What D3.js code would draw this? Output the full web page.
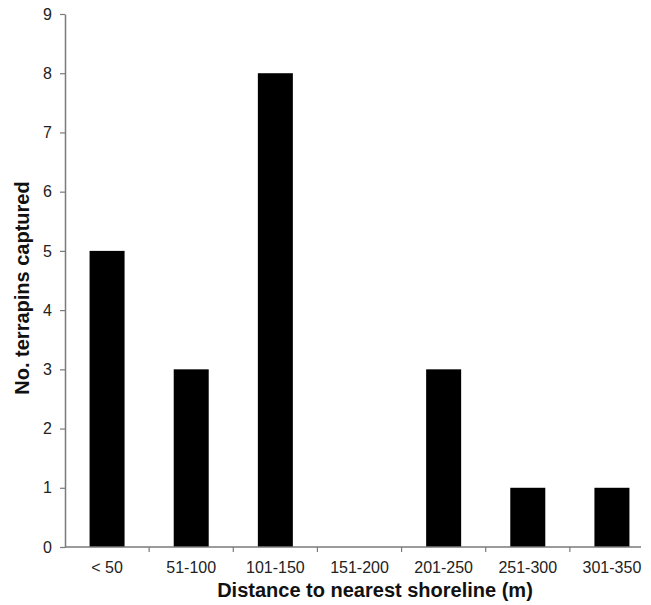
<!DOCTYPE html>
<html><head><meta charset="utf-8">
<script src="https://cdn.jsdelivr.net/npm/d3@7"></script>
<style>body{margin:0;background:#fff}svg{display:block}</style>
</head><body>
<svg id="c" width="651" height="605"></svg>
<script>
const categories = ["< 50","51-100","101-150","151-200","201-250","251-300","301-350"];
const values = [5,3,8,0,3,1,1];
const yTicks = [0,1,2,3,4,5,6,7,8,9];

const svg = d3.select("#c");
const L = 65, R = 654, T = 14, B = 547;
const x = d3.scaleBand().domain(categories).range([L, R]).paddingInner(0).paddingOuter(0);
const y = d3.scaleLinear().domain([0, 9]).range([B, T]);
const bw = 35;
const axisCol = "#7a7a7a", textCol = "#222";
const ff = "Liberation Sans, Arial, sans-serif";

svg.append("g").selectAll("rect").data(values).join("rect")
  .attr("x", (d,i) => x(categories[i]) + x.bandwidth()/2 - bw/2)
  .attr("y", d => y(d))
  .attr("width", bw)
  .attr("height", d => y(0) - y(d))
  .attr("fill", "#000");

// y axis
const ya = svg.append("g").attr("transform", `translate(${L},0)`)
  .call(d3.axisLeft(y).tickValues(yTicks).tickSize(5).tickSizeOuter(0).tickPadding(8));
ya.select(".domain").attr("stroke", axisCol).attr("stroke-width", 1.5);
ya.selectAll(".tick line").attr("stroke", axisCol).attr("stroke-width", 1.2);
ya.selectAll(".tick text").attr("font-family", ff).attr("font-size", 16).attr("fill", textCol);

// x axis
const xa = svg.append("g").attr("transform", `translate(0,${B})`)
  .call(d3.axisBottom(x).tickSize(0).tickPadding(14.5));
xa.select(".domain").remove();
xa.append("line").attr("x1", L).attr("x2", 641).attr("y1", 0).attr("y2", 0)
  .attr("stroke", axisCol).attr("stroke-width", 1.5);
const bounds = categories.map(c => x(c)).concat([x(categories[categories.length-1]) + x.bandwidth()]);
xa.selectAll(".bt").data(bounds.slice(1, categories.length)).join("line")
  .attr("x1", d => d).attr("x2", d => d).attr("y1", 0).attr("y2", 5)
  .attr("stroke", axisCol).attr("stroke-width", 1.2);
xa.selectAll(".tick text").attr("font-family", ff).attr("font-size", 16).attr("fill", textCol);

svg.append("text").attr("x", 375).attr("y", 597).attr("text-anchor", "middle")
  .attr("font-family", ff).attr("font-weight", "bold")
  .attr("font-size", 20).attr("fill", "#111").text("Distance to nearest shoreline (m)");

svg.append("text").attr("transform", "translate(29,288) rotate(-90)").attr("text-anchor", "middle")
  .attr("font-family", ff).attr("font-weight", "bold")
  .attr("font-size", 20).attr("fill", "#111").text("No. terrapins captured");
</script>
</body></html>
